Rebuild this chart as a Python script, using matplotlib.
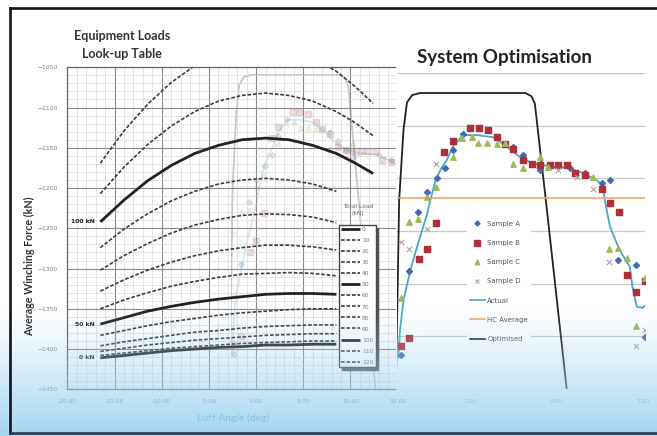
import matplotlib
matplotlib.use("Agg")
import matplotlib.pyplot as plt
import numpy as np
from matplotlib.lines import Line2D
from matplotlib.patches import Rectangle

W, H = 657, 436

# ---------------------------------------------------------------------------
# Left chart: equipment loads look-up table (force vs luff angle per load)
# ---------------------------------------------------------------------------
LUFF_ANGLE = [-16.5, -14, -11.5, -9, -6.5, -4, -1.5, 1, 3.5, 6, 8.5, 10.5, 12.4]
LOADS = [0, 10, 20, 30, 40, 50, 60, 70, 80, 90, 100, 110, 120]

FORCE_0KN = [-1411, -1408, -1405, -1402, -1400, -1398, -1397, -1395, -1395, -1394, -1394]
FORCE_10KN = [-1408, -1405, -1402, -1399, -1397, -1395, -1393, -1392, -1391, -1390, -1390]
FORCE_20KN = [-1403, -1399, -1395, -1392, -1389, -1387, -1385, -1383, -1382, -1381, -1381]
FORCE_30KN = [-1396, -1391, -1387, -1383, -1379, -1377, -1374, -1372, -1371, -1370, -1370]
FORCE_40KN = [-1383, -1377, -1371, -1366, -1362, -1358, -1355, -1353, -1351, -1350, -1350]
FORCE_50KN = [-1369, -1361, -1353, -1347, -1342, -1338, -1335, -1332, -1331, -1331, -1332]
FORCE_60KN = [-1350, -1339, -1330, -1322, -1316, -1311, -1307, -1306, -1305, -1306, -1309]
FORCE_70KN = [-1328, -1314, -1302, -1292, -1284, -1278, -1274, -1271, -1271, -1273, -1277]
FORCE_80KN = [-1302, -1284, -1269, -1256, -1246, -1239, -1234, -1232, -1233, -1236, -1243]
FORCE_90KN = [-1274, -1251, -1232, -1216, -1204, -1195, -1190, -1188, -1190, -1195, -1204]
FORCE_100KN = [-1242, -1215, -1191, -1172, -1157, -1147, -1140, -1138, -1140, -1147, -1157,
               -1169, -1182]
FORCE_110KN = [-1207, -1174, -1146, -1123, -1105, -1092, -1085, -1082, -1085, -1092, -1105,
               -1119, -1135]
FORCE_120KN = [-1169, -1129, -1096, -1069, -1048, -1033, -1025, -1023, -1028, -1038, -1055,
               -1074, -1095]

LOAD_CURVES = [FORCE_0KN, FORCE_10KN, FORCE_20KN, FORCE_30KN, FORCE_40KN, FORCE_50KN,
               FORCE_60KN, FORCE_70KN, FORCE_80KN, FORCE_90KN, FORCE_100KN, FORCE_110KN,
               FORCE_120KN]

# ---------------------------------------------------------------------------
# Right chart: system optimisation
# ---------------------------------------------------------------------------
OPT_X = [0.14, 0.16, 0.18, 0.23, 0.27, 0.33, 0.42, 1.64, 1.71, 1.75, 1.89, 2.12, 2.13]
OPT_Y = [-1456, -1366, -1271, -1204, -1178, -1171, -1169, -1169, -1172, -1179, -1280,
         -1451, -1457]

ACTUAL_X = [0.17, 0.19, 0.23, 0.31, 0.42, 0.50, 0.54, 0.60, 0.67, 0.73, 0.80, 0.92, 1.08,
            1.27, 1.43, 1.58, 1.73, 1.96, 2.12, 2.31, 2.47, 2.54, 2.56, 2.62, 2.73, 2.85,
            2.88, 2.93, 3.00, 3.02]
ACTUAL_Y = [-1420, -1394, -1366, -1337, -1306, -1285, -1271, -1252, -1240, -1233, -1220,
            -1209, -1209, -1211, -1220, -1230, -1236, -1239, -1240, -1245, -1252, -1258,
            -1271, -1296, -1318, -1334, -1353, -1372, -1373, -1371]

HC_AVERAGE = -1269

SAMPLE_A_X = [0.20, 0.29, 0.40, 0.50, 0.62, 0.71, 0.80, 0.92, 1.50, 1.61, 1.72, 1.81, 2.16,
              2.33, 2.53, 2.62, 2.71, 2.92, 3.02]
SAMPLE_A_Y = [-1418, -1338, -1282, -1263, -1250, -1240, -1223, -1208, -1220, -1228, -1236,
              -1242, -1240, -1245, -1254, -1252, -1328, -1332, -1401]

SAMPLE_B_X = [0.20, 0.29, 0.41, 0.50, 0.61, 0.70, 0.80, 1.00, 1.10, 1.21, 1.31, 1.40, 1.50,
              1.61, 1.72, 1.81, 1.92, 2.02, 2.12, 2.21, 2.33, 2.53, 2.62, 2.72, 2.82, 2.92,
              3.02]
SAMPLE_B_Y = [-1409, -1402, -1327, -1317, -1292, -1225, -1215, -1202, -1202, -1204, -1211,
              -1217, -1222, -1233, -1236, -1237, -1237, -1237, -1237, -1245, -1247, -1260,
              -1273, -1282, -1342, -1358, -1347]

SAMPLE_C_X = [0.20, 0.29, 0.40, 0.50, 0.61, 0.80, 0.91, 1.02, 1.09, 1.20, 1.31, 1.40, 1.50,
              1.61, 1.81, 1.90, 2.42, 2.61, 2.71, 2.82, 2.92, 3.02]
SAMPLE_C_Y = [-1364, -1291, -1289, -1268, -1258, -1230, -1212, -1211, -1216, -1216, -1217,
              -1216, -1236, -1240, -1230, -1239, -1249, -1317, -1316, -1326, -1390, -1345]

SAMPLE_D_X = [0.20, 0.29, 0.50, 0.61, 2.02, 2.24, 2.42, 2.61, 2.92, 3.02]
SAMPLE_D_Y = [-1310, -1317, -1298, -1236, -1242, -1249, -1260, -1329, -1409, -1394]

BLUE = "#3f6cb3"
RED = "#b0303a"
GREEN = "#9bbb59"
GREY = "#a5a5a5"
TEAL = "#4aa8c2"
ORANGE = "#f0a060"
DARK = "#222222"


def px_box(x0, y0, x1, y1):
    """Figure-fraction [l, b, w, h] from pixel corners (origin top-left)."""
    return [x0 / W, 1 - y1 / H, (x1 - x0) / W, (y1 - y0) / H]


def draw_system(ax, alpha=1.0, marker_alpha=None):
    """Optimised / actual / HC average lines and the four sample series."""
    ma = alpha if marker_alpha is None else marker_alpha
    ax.plot(OPT_X, OPT_Y, color=DARK, lw=1.3, alpha=alpha)
    ax.plot(ACTUAL_X, ACTUAL_Y, color=TEAL, lw=1.3, alpha=alpha)
    ax.axhline(HC_AVERAGE, color=ORANGE, lw=1.1, alpha=alpha)
    ax.scatter(SAMPLE_A_X, SAMPLE_A_Y, marker="D", s=9, color=BLUE, alpha=ma, zorder=4)
    ax.scatter(SAMPLE_B_X, SAMPLE_B_Y, marker="s", s=18, color=RED, alpha=ma, zorder=4)
    ax.scatter(SAMPLE_C_X, SAMPLE_C_Y, marker="^", s=15, color=GREEN, alpha=ma, zorder=4)
    ax.scatter(SAMPLE_D_X, SAMPLE_D_Y, marker="x", s=14, color=GREY, lw=0.8, alpha=ma,
               zorder=4)


fig = plt.figure(figsize=(W / 100, H / 100), dpi=100)
fig.patch.set_facecolor("white")

# faint copy of the optimisation chart sitting behind the look-up table
ghost = fig.add_axes(px_box(230.7, 53.7, 442.3, 390), zorder=0.5)
ghost.set_xlim(0.155, 3.025)
ghost.set_ylim(-1450, -1150)
ghost.set_axis_off()
draw_system(ghost, alpha=0.25, marker_alpha=0.17)

# look-up table
ax = fig.add_axes(px_box(67.3, 67.3, 444.9, 389.3), zorder=1)
ax.set_facecolor("none")
ax.set_xlim(-20, 20)
ax.set_ylim(-1450, -1050)
ax.set_xticks(np.arange(-20, 16, 5))
ax.set_xticklabels([f"{v:.2f}" for v in np.arange(-20, 16, 5)])
ax.set_xticks(np.arange(-20, 20, 1), minor=True)
ax.set_yticks(np.arange(-1450, -1049, 50))
ax.set_yticks(np.arange(-1450, -1050, 10), minor=True)
ax.grid(which="major", color="#8a8a8a", lw=0.8)
ax.grid(which="minor", color="#d6d6d6", lw=0.45)
ax.tick_params(which="both", length=0, labelsize=4.3, labelcolor="#7a7a7a", pad=7)
for sp in ax.spines.values():
    sp.set_color("#666666")
    sp.set_linewidth(0.9)

for load, vals in zip(LOADS, LOAD_CURVES):
    xs = LUFF_ANGLE[:len(vals)]
    if load % 50 == 0:
        ax.plot(xs, vals, color=DARK, lw=2.0, solid_capstyle="butt", label=str(load))
        ax.text(-17.1, vals[0], f"{load} kN", ha="right", va="center", fontsize=4.4,
                fontweight="bold", color=DARK)
    else:
        ax.plot(xs, vals, color="#3c3c3c", lw=1.2, ls=(0, (2.2, 1.1)), label=str(load))

ax.legend(loc="upper left", bbox_to_anchor=(339 / W, 1 - 225 / H),
          bbox_transform=fig.transFigure, fontsize=4.3, labelcolor="#777777",
          labelspacing=0.98, handlelength=3.2, handletextpad=0.3, borderpad=0.35,
          borderaxespad=0, frameon=True, fancybox=False, edgecolor="#444444",
          framealpha=1, shadow={"color": "#555555", "alpha": 1})
fig.text(358 / W, 1 - 210 / H, "Total Load\n(kN)", ha="center", va="center",
         fontsize=4.3, color="#666666", linespacing=1.3)

# white block the optimisation chart sits on
fig.add_artist(Rectangle((396 / W, 1 - 391 / H), (W - 396) / W, (391 - 64) / H,
                         transform=fig.transFigure, facecolor="white",
                         edgecolor="none", zorder=2))

# system optimisation chart
ax2 = fig.add_axes(px_box(397, 73, 645, 389), zorder=3)
ax2.set_facecolor("none")
ax2.set_xlim(0.155, 3.025)
ax2.set_ylim(-1450, -1150)
ax2.set_yticks(np.arange(-1450, -1149, 50))
ax2.set_xticks([1, 2, 3])
ax2.set_xticklabels(["1.00", "2.00", "3.00"])
ax2.yaxis.grid(True, color="#c8c8c8", lw=0.9)
ax2.set_axisbelow(True)
ax2.tick_params(axis="y", length=0, labelleft=False)
ax2.tick_params(axis="x", length=0, labelsize=4.3, labelcolor="#9a9a9a", pad=7)
for sp in ax2.spines.values():
    sp.set_visible(False)
draw_system(ax2)

handles = [
    Line2D([], [], ls="none", marker="D", ms=2.6, color=BLUE),
    Line2D([], [], ls="none", marker="s", ms=3.8, color=RED),
    Line2D([], [], ls="none", marker="^", ms=3.4, color=GREEN),
    Line2D([], [], ls="none", marker="x", ms=3.4, mew=0.8, color=GREY),
    Line2D([], [], color=TEAL, lw=1.2),
    Line2D([], [], color=ORANGE, lw=1.1),
    Line2D([], [], color=DARK, lw=1.2),
]
labels = ["Sample A", "Sample B", "Sample C", "Sample D", "Actual", "HC Average", "Optimised"]
ax2.legend(handles, labels, loc="upper left", bbox_to_anchor=(467 / W, 1 - 218 / H),
           bbox_transform=fig.transFigure, fontsize=5, labelcolor="#555555",
           handlelength=2.2, handletextpad=0.3, labelspacing=1.9, borderpad=0.4,
           borderaxespad=0, frameon=True, facecolor="white", edgecolor="none",
           framealpha=1, fancybox=False)

# pale blue wash over the lower part of the slide
rows = np.arange(H) + 0.5
wash = np.zeros((H, 1, 4))
wash[..., 0], wash[..., 1], wash[..., 2] = 0.62, 0.83, 0.94
wash[:, 0, 3] = np.clip((rows - 305) / (H - 305), 0, 1) ** 1.2 * 0.95
gax = fig.add_axes([0, 0, 1, 1], zorder=4)
gax.imshow(wash, extent=(0, 1, 0, 1), aspect="auto", interpolation="bilinear")
gax.set_axis_off()
gax.patch.set_alpha(0)

# titles and axis labels
fig.text(122 / W, 1 - 36 / H, "Equipment Loads", ha="center", va="center",
         fontsize=9, fontweight="bold", family="Lato", color="#333333", zorder=6)
fig.text(122 / W, 1 - 54 / H, "Look-up Table", ha="center", va="center",
         fontsize=9, fontweight="bold", family="Lato", color="#333333", zorder=6)
fig.text(504 / W, 1 - 57 / H, "System Optimisation", ha="center", va="center",
         fontsize=13.5, fontweight="bold", family="Lato", color="#222222", zorder=6)
fig.text(30 / W, 1 - 266 / H, "Average Winching Force (kN)", rotation=90, ha="center",
         va="center", fontsize=7.7, fontweight="bold", family="Lato", color="#333333",
         zorder=6)
fig.text(233 / W, 1 - 418 / H, "Luff Angle (deg)", ha="center", va="center",
         fontsize=7.5, family="Lato", color="#86c4e6", zorder=6)

# slide frame
frame = dict(color="#141414", lw=1.9, transform=fig.transFigure, zorder=10)
fig.add_artist(Line2D([10 / W, 10 / W], [1 - 8.5 / H, 1 - 433 / H], **frame))
fig.add_artist(Line2D([10 / W, 1], [1 - 8.5 / H, 1 - 8.5 / H], **frame))
fig.add_artist(Line2D([10 / W, 1], [1 - 433 / H, 1 - 433 / H], **dict(frame, color="#2e3a48")))

fig.savefig("out.png", dpi=100)
